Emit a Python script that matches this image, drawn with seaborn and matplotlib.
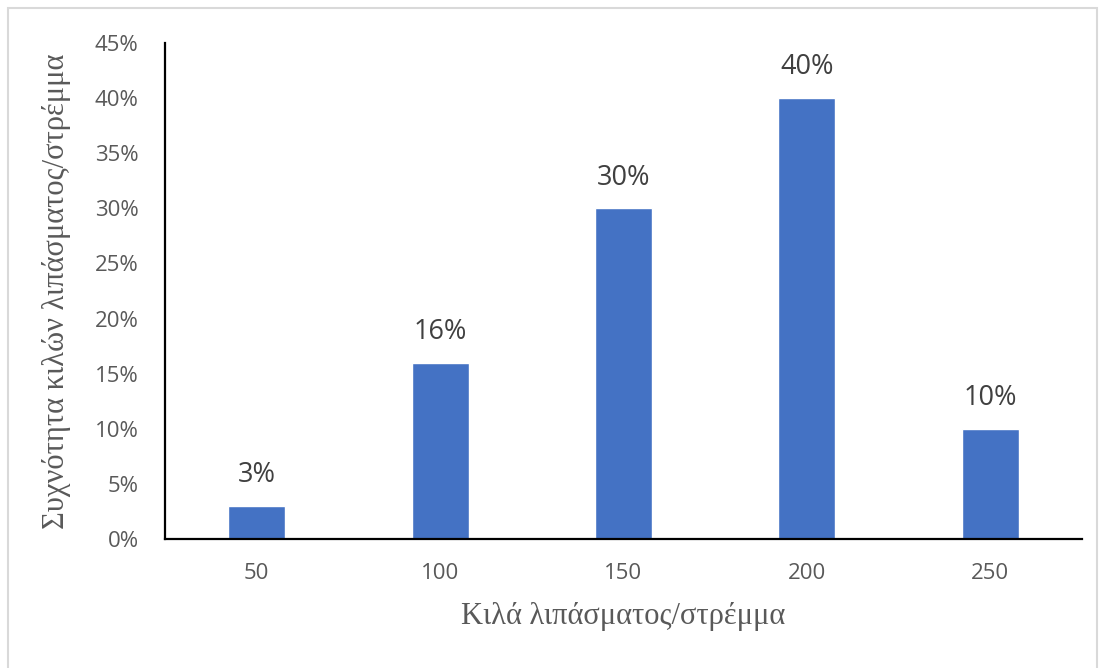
import numpy as np
import pandas as pd
import matplotlib
matplotlib.use("Agg")
import matplotlib.pyplot as plt
from matplotlib.ticker import PercentFormatter
from matplotlib.patches import Rectangle
import seaborn as sns

# δεδομένα
kila = ["50", "100", "150", "200", "250"]
syxnotita = [3, 16, 30, 40, 10]
y_ticks = [0, 5, 10, 15, 20, 25, 30, 35, 40, 45]

df = pd.DataFrame({"kila": kila, "syxnotita": syxnotita})

sns.set_style("white")
plt.rcParams['font.family'] = ['Open Sans', 'DejaVu Sans']

fig = plt.figure(figsize=(11.04, 6.68), dpi=100)
ax = fig.add_axes([0.1495, 0.193, 0.8305, 0.7426])

sns.barplot(data=df, x="kila", y="syxnotita", color="#4472C4", saturation=1,
            width=0.31, ax=ax)

# ετικέτες πάνω από τις μπάρες
ax.bar_label(ax.containers[0], labels=[f"{v}%" for v in syxnotita],
             padding=12, fontsize=19.5, color="#404040")

ax.set_ylim(0, 45)
ax.set_xlim(-0.5, 4.5)
ax.set_yticks(y_ticks)
ax.yaxis.set_major_formatter(PercentFormatter(decimals=0))
ax.tick_params(axis="both", length=0, labelsize=16, labelcolor="#595959")
ax.tick_params(axis="x", pad=17)
ax.tick_params(axis="y", pad=19)

for s in ["top", "right"]:
    ax.spines[s].set_visible(False)
for s in ["left", "bottom"]:
    ax.spines[s].set_color("black")
    ax.spines[s].set_linewidth(1.6)

ax.set_xlabel("Κιλά λιπάσματος/στρέμμα", family="Liberation Serif",
              fontsize=22, color="#595959", labelpad=13)
ax.set_ylabel("Συχνότητα κιλών λιπάσματος/στρέμμα", family="Liberation Serif",
              fontsize=22, color="#595959", labelpad=17)

# πλαίσιο γύρω από το γράφημα
fig.patches.append(Rectangle((8 / 1104, -0.01), 1089 / 1104, 1 - 8 / 668 + 0.01,
                             transform=fig.transFigure, fill=False,
                             edgecolor="#d9d9d9", linewidth=1.5))

fig.savefig("out.png", dpi=100)
